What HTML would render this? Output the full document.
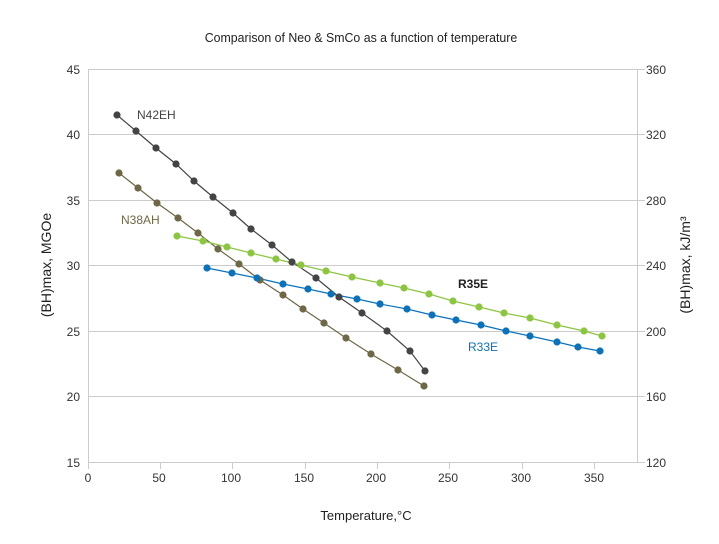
<!DOCTYPE html>
<html><head><style>body{margin:0;background:#fff}svg{display:block}text{font-family:"Liberation Sans",sans-serif}</style></head><body>
<svg width="719" height="544" xmlns="http://www.w3.org/2000/svg">
<text x="361" y="42" font-size="13" text-anchor="middle" fill="#222" transform="translate(361 0) scale(0.95 1) translate(-361 0)">Comparison of Neo &amp; SmCo as a function of temperature</text>
<g stroke="#ccc" stroke-width="1">
<line x1="88" y1="69.5" x2="645" y2="69.5"/><line x1="88" y1="134.5" x2="645" y2="134.5"/><line x1="88" y1="200.5" x2="645" y2="200.5"/><line x1="88" y1="265.5" x2="645" y2="265.5"/><line x1="88" y1="331.5" x2="645" y2="331.5"/><line x1="88" y1="396.5" x2="645" y2="396.5"/><line x1="88" y1="462.5" x2="645" y2="462.5"/>
<line x1="88.5" y1="69" x2="88.5" y2="462"/><line x1="637.5" y1="69" x2="637.5" y2="462"/>
<line x1="88.5" y1="462" x2="88.5" y2="469"/><line x1="160.5" y1="462" x2="160.5" y2="469"/><line x1="232.5" y1="462" x2="232.5" y2="469"/><line x1="305.5" y1="462" x2="305.5" y2="469"/><line x1="377.5" y1="462" x2="377.5" y2="469"/><line x1="449.5" y1="462" x2="449.5" y2="469"/><line x1="522.5" y1="462" x2="522.5" y2="469"/><line x1="594.5" y1="462" x2="594.5" y2="469"/>
</g>
<g font-size="12" fill="#333" text-anchor="end">
<text x="80" y="74">45</text><text x="80" y="139">40</text><text x="80" y="205">35</text><text x="80" y="270">30</text><text x="80" y="336">25</text><text x="80" y="401">20</text><text x="80" y="467">15</text>
</g>
<g font-size="12" fill="#333" text-anchor="start">
<text x="646" y="74">360</text><text x="646" y="139">320</text><text x="646" y="205">280</text><text x="646" y="270">240</text><text x="646" y="336">200</text><text x="646" y="401">160</text><text x="646" y="467">120</text>
</g>
<g font-size="12" fill="#333" text-anchor="middle">
<text x="88" y="482">0</text><text x="159" y="482">50</text><text x="231" y="482">100</text><text x="304" y="482">150</text><text x="376" y="482">200</text><text x="448" y="482">250</text><text x="521" y="482">300</text><text x="594" y="482">350</text>
</g>
<text x="366" y="520" font-size="13" fill="#222" text-anchor="middle">Temperature,°C</text>
<text transform="translate(51 265) rotate(-90)" font-size="14" fill="#222" text-anchor="middle">(BH)max, MGOe</text>
<text transform="translate(690 265) rotate(-90)" font-size="14" fill="#222" text-anchor="middle">(BH)max, kJ/m³</text>
<g fill="none" stroke-width="1.2">
<polyline stroke="#444" points="117,115 136,131 156,148 176,164 194,181 213,197 233,213 251,229 272,245 292,262 316,278 339,297 362,313 387,331 410,351 425,371"/>
<polyline stroke="#6f6846" points="119,173 138,188 157,203 178,218 198,233 218,249 239,264 260,280 283,295 303,309 324,323 346,338 371,354 398,370 424,386"/>
<polyline stroke="#8cc63f" points="177,236 203,241 227,247 251,253 276,259 301,265 326,271 352,277 380,283 404,288 429,294 453,301 479,307 504,313 530,318 557,325 584,331 602,336"/>
<polyline stroke="#0a72bb" points="207,268 232,273 257,278 283,284 308,289 331,294 357,299 380,304 407,309 432,315 456,320 481,325 506,331 530,336 557,342 578,347 600,351"/>
</g>
<g fill="#444"><circle cx="117" cy="115" r="3.6"/><circle cx="136" cy="131" r="3.6"/><circle cx="156" cy="148" r="3.6"/><circle cx="176" cy="164" r="3.6"/><circle cx="194" cy="181" r="3.6"/><circle cx="213" cy="197" r="3.6"/><circle cx="233" cy="213" r="3.6"/><circle cx="251" cy="229" r="3.6"/><circle cx="272" cy="245" r="3.6"/><circle cx="292" cy="262" r="3.6"/><circle cx="316" cy="278" r="3.6"/><circle cx="339" cy="297" r="3.6"/><circle cx="362" cy="313" r="3.6"/><circle cx="387" cy="331" r="3.6"/><circle cx="410" cy="351" r="3.6"/><circle cx="425" cy="371" r="3.6"/></g>
<g fill="#6f6846"><circle cx="119" cy="173" r="3.6"/><circle cx="138" cy="188" r="3.6"/><circle cx="157" cy="203" r="3.6"/><circle cx="178" cy="218" r="3.6"/><circle cx="198" cy="233" r="3.6"/><circle cx="218" cy="249" r="3.6"/><circle cx="239" cy="264" r="3.6"/><circle cx="260" cy="280" r="3.6"/><circle cx="283" cy="295" r="3.6"/><circle cx="303" cy="309" r="3.6"/><circle cx="324" cy="323" r="3.6"/><circle cx="346" cy="338" r="3.6"/><circle cx="371" cy="354" r="3.6"/><circle cx="398" cy="370" r="3.6"/><circle cx="424" cy="386" r="3.6"/></g>
<g fill="#8cc63f"><circle cx="177" cy="236" r="3.6"/><circle cx="203" cy="241" r="3.6"/><circle cx="227" cy="247" r="3.6"/><circle cx="251" cy="253" r="3.6"/><circle cx="276" cy="259" r="3.6"/><circle cx="301" cy="265" r="3.6"/><circle cx="326" cy="271" r="3.6"/><circle cx="352" cy="277" r="3.6"/><circle cx="380" cy="283" r="3.6"/><circle cx="404" cy="288" r="3.6"/><circle cx="429" cy="294" r="3.6"/><circle cx="453" cy="301" r="3.6"/><circle cx="479" cy="307" r="3.6"/><circle cx="504" cy="313" r="3.6"/><circle cx="530" cy="318" r="3.6"/><circle cx="557" cy="325" r="3.6"/><circle cx="584" cy="331" r="3.6"/><circle cx="602" cy="336" r="3.6"/></g>
<g fill="#0a72bb"><circle cx="207" cy="268" r="3.6"/><circle cx="232" cy="273" r="3.6"/><circle cx="257" cy="278" r="3.6"/><circle cx="283" cy="284" r="3.6"/><circle cx="308" cy="289" r="3.6"/><circle cx="331" cy="294" r="3.6"/><circle cx="357" cy="299" r="3.6"/><circle cx="380" cy="304" r="3.6"/><circle cx="407" cy="309" r="3.6"/><circle cx="432" cy="315" r="3.6"/><circle cx="456" cy="320" r="3.6"/><circle cx="481" cy="325" r="3.6"/><circle cx="506" cy="331" r="3.6"/><circle cx="530" cy="336" r="3.6"/><circle cx="557" cy="342" r="3.6"/><circle cx="578" cy="347" r="3.6"/><circle cx="600" cy="351" r="3.6"/></g>
<text x="137" y="119" font-size="12" fill="#444">N42EH</text>
<text x="121" y="224" font-size="12" fill="#6f6846">N38AH</text>
<text x="458" y="288" font-size="12" font-weight="bold" fill="#222">R35E</text>
<text x="468" y="351" font-size="12" fill="#0a72bb">R33E</text>
</svg>
</body></html>
